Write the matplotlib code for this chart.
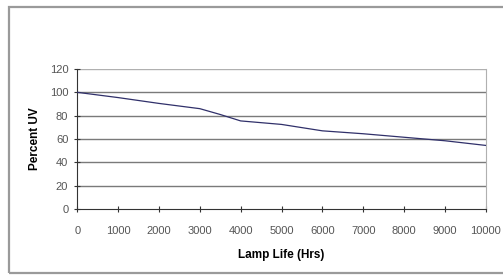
import matplotlib.pyplot as plt
from matplotlib.patches import Rectangle

# lamp life (hrs) vs remaining UV output (%)
hours = [0, 1000, 2000, 3000, 3500, 4000, 4500, 5000, 6000, 7000, 8000, 9000, 10000]
percent_uv = [100, 95.5, 90.5, 86, 81, 75.5, 74, 72.5, 67, 64.5, 61.5, 58.5, 54.5]
x_ticks = list(range(0, 10001, 1000))
y_ticks = list(range(0, 121, 20))

plt.rcParams['font.family'] = ['Liberation Sans', 'DejaVu Sans']

fig = plt.figure(figsize=(5.03, 2.75), dpi=100)
fig.patch.set_facecolor('white')

# outer chart border
fig.patches.append(Rectangle((9 / 503, 2 / 275), 1.0, 266 / 275, transform=fig.transFigure,
                             fill=False, edgecolor='#9a9a9a', linewidth=1.6))

ax = fig.add_axes([77.3 / 503, 66 / 275, 408.4 / 503, 140 / 275])
ax.set_xlim(0, 10000)
ax.set_ylim(0, 120)

for y in y_ticks[1:]:
    ax.axhline(y, color='#7a7a7a' if y < 120 else '#b0b0b0', linewidth=1.0, zorder=1)

ax.plot(hours, percent_uv, color='#30306a', linewidth=0.9, zorder=3)

ax.spines['top'].set_visible(False)
ax.spines['right'].set_color('#b0b0b0')
ax.spines['left'].set_color('#333333')
ax.spines['bottom'].set_color('#333333')

ax.set_xticks(x_ticks)
ax.set_yticks(y_ticks)
ax.tick_params(direction='inout', length=5, width=0.8, labelsize=8, colors='#333333')
ax.tick_params(axis='x', labelcolor='#555555', pad=10)
ax.tick_params(axis='y', labelcolor='#555555', pad=4)

ax.set_xlabel('Lamp Life (Hrs)', fontsize=8.5, fontweight='bold', labelpad=9)
ax.set_ylabel('Percent UV', fontsize=8.5, fontweight='bold', labelpad=6)

fig.savefig('out.png', dpi=100)
